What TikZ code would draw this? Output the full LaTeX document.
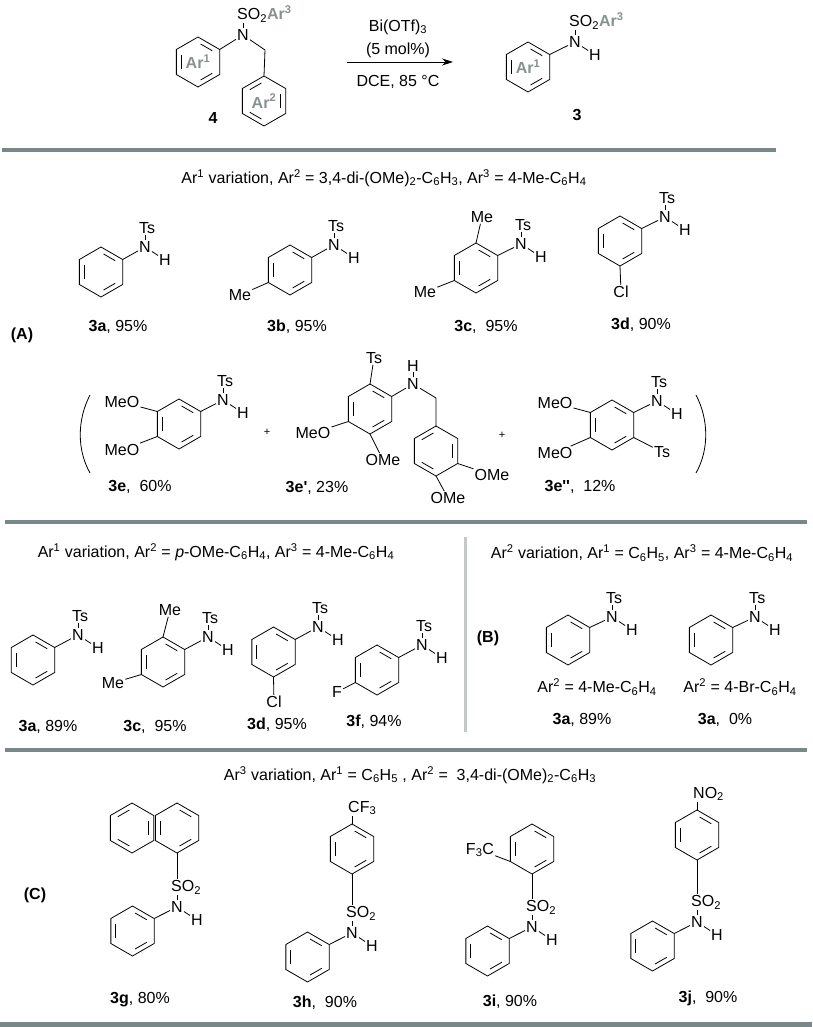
\documentclass[tikz,border=0pt]{standalone}
\usepackage{fontspec}
\setmainfont{Liberation Sans}
\usetikzlibrary{calc,positioning,arrows.meta}
\definecolor{rulegray}{RGB}{120,135,135}
\definecolor{argray}{RGB}{135,145,145}
\definecolor{divgray}{RGB}{195,200,200}
\newcommand\chem{\fontsize{16}{18}\selectfont}
\newcommand\rr{25}
% benzene ring: vertices 1..6 from the top, counter-clockwise
\newcommand\ring[4][0]{%
  \coordinate (#2c) at (#3,#4);
  \foreach \k in {1,...,6}
    \coordinate (#2\k) at ($(#2c)+({-90-60*(\k-1)}:\rr)$);
  \draw[bond] (#21)--(#22)--(#23)--(#24)--(#25)--(#26)--cycle;
  \ifnum#1=0
    \foreach \a/\b in {6/1,2/3,4/5}
      \draw[dbl] ($(#2c)!0.78!(#2\a)$) -- ($(#2c)!0.78!(#2\b)$);
  \else
    \foreach \a/\b in {1/2,3/4,5/6}
      \draw[dbl] ($(#2c)!0.78!(#2\a)$) -- ($(#2c)!0.78!(#2\b)$);
  \fi}
% N-H with a group on top
\newcommand\nh[5]{%
  \node[atom] (n#1) at (#2,#3) {N};
  \node[atom,anchor=south west] (t#1) at ([yshift=5pt]n#1.north west) {#4};
  \node[atom] (h#1) at ([xshift=20pt,yshift=-13pt]n#1.center) {H};
  \draw[bond] (n#1.north) -- (n#1.north |- t#1.south);
  \draw[bond] (n#1) -- (h#1);
  \draw[bond] (#5) -- (n#1);}
\newcommand\sotwo{SO\textsubscript{2}}
\begin{document}
\begin{tikzpicture}[x=1pt,y=-1pt,
	bond/.style={line width=0.8pt},
	dbl/.style={bond,shorten <=3pt,shorten >=3pt},
	atom/.style={inner sep=1pt,font=\chem},
	lbl/.style={inner sep=1pt,font=\chem},
	argp/.style={atom,text=argray,font=\chem\bfseries},
	rule/.style={line width=4pt,rulegray}]
	\fill[white] (0,0) rectangle (812,1027);
	\useasboundingbox (0,0) rectangle (812,1027);
	% scheme
	\ring{ra}{198}{62}
	\ring[1]{rb}{264}{101}
	\node[argp] (ar1) at (rac) {Ar\textsuperscript{1}};
	\node[argp] (ar2) at (rbc) {Ar\textsuperscript{2}};
	\node[atom] (n4) at (243,35) {N};
	\node[atom,anchor=south west] (s4) at ([yshift=5pt]n4.north west) {\sotwo\textcolor{argray}{\bfseries Ar\textsuperscript{3}}};
	\coordinate (ch2) at (265,50);
	\draw[bond] (ra6) -- (n4);
	\draw[bond] (n4) -- (ch2) -- (rb1);
	\draw[bond] (n4.north) -- (n4.north |- s4.south);
	\node[lbl,font=\chem\bfseries] (c4) at (213,118) {4};
	\coordinate (arA) at (347,62);
	\coordinate (arB) at (453,62);
	\draw[bond,-{Stealth[length=11pt,width=7pt]}] (arA) -- (arB);
	\node[lbl] (bi) at (398,27) {Bi(OTf)\textsubscript{3}};
	\node[lbl] (mol) at (398,50) {(5 mol\%)};
	\node[lbl] (dce) at (398,82) {DCE, 85 °C};
	\ring{rp}{528}{67}
	\node[argp] (ar1p) at (rpc) {Ar\textsuperscript{1}};
	\nh{3}{575}{42}{\sotwo\textcolor{argray}{\bfseries Ar\textsuperscript{3}}}{rp6}
	\node[lbl,font=\chem\bfseries] (c3) at (577,115) {3};
	\draw[rule] (2,150) -- (776,150);
	% (A)
	\node[lbl] (tA) at (384,178) {Ar\textsuperscript{1} variation, Ar\textsuperscript{2} = 3,4-di-(OMe)\textsubscript{2}-C\textsubscript{6}H\textsubscript{3}, Ar\textsuperscript{3} = 4-Me-C\textsubscript{6}H\textsubscript{4}};
	\node[lbl,font=\chem\bfseries] (pA) at (22,335) {(A)};
	\ring{r3a}{101}{272}
	\nh{3a}{145}{247}{Ts}{r3a6}
	\ring{r3b}{290}{270}
	\nh{3b}{334}{245}{Ts}{r3b6}
	\node[atom] (me3b) at (240,295) {Me};
	\draw[bond] (r3b3) -- (me3b);
	\ring{r3c}{476}{268}
	\nh{3c}{521}{244}{Ts}{r3c6}
	\node[atom] (me3c) at (482,217) {Me};
	\node[atom] (mf3c) at (425,292) {Me};
	\draw[bond] (r3c1) -- (me3c);
	\draw[bond] (r3c3) -- (mf3c);
	\ring{r3d}{620}{241}
	\nh{3d}{665}{217}{Ts}{r3d6}
	\node[atom] (cl3d) at (621,292) {Cl};
	\draw[bond] (r3d4) -- (cl3d);
	\node[lbl] (l3a) at (118,327) {\textbf{3a}, 95\%};
	\node[lbl] (l3b) at (297,327) {\textbf{3b}, 95\%};
	\node[lbl] (l3c) at (486,327) {\textbf{3c},\ \ 95\%};
	\node[lbl] (l3d) at (641,325) {\textbf{3d}, 90\%};
	\draw[bond] (90,395) .. controls (77,420) and (77,450) .. (90,473);
	\draw[bond] (696,395) .. controls (709,420) and (709,450) .. (696,473);
	\ring{r3e}{179}{424}
	\nh{3e}{223}{400}{Ts}{r3e6}
	\node[atom] (mo3e) at (122,402) {MeO};
	\node[atom] (mp3e) at (122,450) {MeO};
	\draw[bond] (r3e2) -- (mo3e);
	\draw[bond] (r3e3) -- (mp3e);
	\node[lbl,font=\fontsize{11}{12}\selectfont] (plus1) at (267,432) {+};
	\ring{r3ep}{370}{409}
	\node[atom] (ts3ep) at (374,358) {Ts};
	\draw[bond] (r3ep1) -- (ts3ep);
	\node[atom] (n3ep) at (413,384) {N};
	\node[atom,anchor=south] (h3ep) at ([yshift=5pt]n3ep.north) {H};
	\draw[bond] (n3ep) -- (h3ep);
	\draw[bond] (r3ep6) -- (n3ep);
	\node[atom] (mo3ep) at (313,433) {MeO};
	\node[atom] (om3ep) at (383,460) {OMe};
	\draw[bond] (r3ep3) -- (mo3ep);
	\draw[bond] (r3ep4) -- (om3ep);
	\ring[1]{r3eq}{436}{451}
	\coordinate (ch3e) at (436,398);
	\draw[bond] (n3ep) -- (ch3e) -- (r3eq1);
	\node[atom] (om3eq) at (492,475) {OMe};
	\node[atom] (on3eq) at (448,498) {OMe};
	\draw[bond] (r3eq5) -- (om3eq);
	\draw[bond] (r3eq4) -- (on3eq);
	\node[lbl,font=\fontsize{11}{12}\selectfont] (plus2) at (502,435) {+};
	\ring{r3er}{612}{425}
	\nh{3er}{657}{401}{Ts}{r3er6}
	\node[atom] (mo3er) at (555,403) {MeO};
	\node[atom] (mp3er) at (555,453) {MeO};
	\node[atom] (ts3er) at (662,452) {Ts};
	\draw[bond] (r3er2) -- (mo3er);
	\draw[bond] (r3er3) -- (mp3er);
	\draw[bond] (r3er5) -- (ts3er);
	\node[lbl] (l3e) at (140,487) {\textbf{3e},\ \ 60\%};
	\node[lbl] (l3ep) at (317,488) {\textbf{3e\textquotesingle}, 23\%};
	\node[lbl] (l3er) at (580,487) {\textbf{3e\textquotesingle\textquotesingle},\ \ 12\%};
	\draw[rule] (5,522) -- (807,522);
	% (B)
	\node[lbl] (tB1) at (216,552) {Ar\textsuperscript{1} variation, Ar\textsuperscript{2} = \textit{p}-OMe-C\textsubscript{6}H\textsubscript{4}, Ar\textsuperscript{3} = 4-Me-C\textsubscript{6}H\textsubscript{4}};
	\node[lbl] (tB2) at (642,553) {Ar\textsuperscript{2} variation, Ar\textsuperscript{1} = C\textsubscript{6}H\textsubscript{5}, Ar\textsuperscript{3} = 4-Me-C\textsubscript{6}H\textsubscript{4}};
	\draw[line width=3pt,divgray] (465,537) -- (465,732);
	\ring{s3a}{33}{660}
	\nh{s3a}{78}{635}{Ts}{s3a6}
	\ring{s3c}{163}{662}
	\nh{s3c}{208}{637}{Ts}{s3c6}
	\node[atom] (me4c) at (170,610) {Me};
	\node[atom] (mf4c) at (113,683) {Me};
	\draw[bond] (s3c1) -- (me4c);
	\draw[bond] (s3c3) -- (mf4c);
	\ring{s3d}{273.5}{652}
	\nh{s3d}{318}{627}{Ts}{s3d6}
	\node[atom] (cl4d) at (274,702) {Cl};
	\draw[bond] (s3d4) -- (cl4d);
	\ring{s3f}{377}{670}
	\nh{s3f}{422}{645}{Ts}{s3f6}
	\node[atom] (f4f) at (337,692) {F};
	\draw[bond] (s3f3) -- (f4f);
	\node[lbl] (m3a) at (48,727) {\textbf{3a}, 89\%};
	\node[lbl] (m3c) at (155,727) {\textbf{3c},\ \ 95\%};
	\node[lbl] (m3d) at (277,725) {\textbf{3d}, 95\%};
	\node[lbl] (m3f) at (374,722) {\textbf{3f}, 94\%};
	\node[lbl,font=\chem\bfseries] (pB) at (488,638) {(B)};
	\ring{u3a}{568}{640}
	\nh{u3a}{612}{617}{Ts}{u3a6}
	\ring{v3a}{711}{640}
	\nh{v3a}{755}{617}{Ts}{v3a6}
	\node[lbl] (a2me) at (597,687) {Ar\textsuperscript{2} = 4-Me-C\textsubscript{6}H\textsubscript{4}};
	\node[lbl] (a2br) at (740,687) {Ar\textsuperscript{2} = 4-Br-C\textsubscript{6}H\textsubscript{4}};
	\node[lbl] (k3a) at (582,720) {\textbf{3a}, 89\%};
	\node[lbl] (j3a) at (725,720) {\textbf{3a},\ \ 0\%};
	\draw[rule] (5,750) -- (807,750);
	% (C)
	\node[lbl] (tC) at (410,775) {Ar\textsuperscript{3} variation, Ar\textsuperscript{1} = C\textsubscript{6}H\textsubscript{5} , Ar\textsuperscript{2} =\ \ 3,4-di-(OMe)\textsubscript{2}-C\textsubscript{6}H\textsubscript{3}};
	\node[lbl,font=\chem\bfseries] (pC) at (35,895) {(C)};
	\ring[1]{r3g}{132}{828}
	\ring{r3gb}{177}{828}
	\ring{r3gp}{132.5}{931}
	\nh{3g}{177}{907}{\sotwo}{r3gp6}
	\draw[bond] (r3gb4) -- (r3gb4 |- t3g.north);
	\ring{r3h}{352}{849}
	\ring{r3hp}{307.5}{957}
	\nh{3h}{352}{933}{\sotwo}{r3hp6}
	\draw[bond] (r3h4) -- (r3h4 |- t3h.north);
	\node[atom,anchor=south west] (cf3h) at ([xshift=-5pt,yshift=8pt]r3h1) {CF\textsubscript{3}};
	\draw[bond] (r3h1) -- (r3h1 |- cf3h.south);
	\ring{r3i}{532}{849}
	\ring{r3ip}{487.5}{951}
	\nh{3i}{532}{927}{\sotwo}{r3ip6}
	\draw[bond] (r3i4) -- (r3i4 |- t3i.north);
	\node[atom] (cf3i) at (480,850) {F\textsubscript{3}C};
	\draw[bond] (r3i3) -- (cf3i);
	\ring{r3j}{697}{835}
	\ring{r3jp}{652.5}{946}
	\nh{3j}{697}{922}{\sotwo}{r3jp6}
	\draw[bond] (r3j4) -- (r3j4 |- t3j.north);
	\node[atom,anchor=south west] (no3j) at ([xshift=-5pt,yshift=8pt]r3j1) {NO\textsubscript{2}};
	\draw[bond] (r3j1) -- (r3j1 |- no3j.south);
	\node[lbl] (l3g) at (140,1000) {\textbf{3g}, 80\%};
	\node[lbl] (l3h) at (325,1003) {\textbf{3h},\ \ 90\%};
	\node[lbl] (l3i) at (510,1002) {\textbf{3i}, 90\%};
	\node[lbl] (l3j) at (708,998) {\textbf{3j},\ \ 90\%};
	\draw[line width=5pt,rulegray] (0,1024) -- (812,1024);
\end{tikzpicture}
\end{document}
